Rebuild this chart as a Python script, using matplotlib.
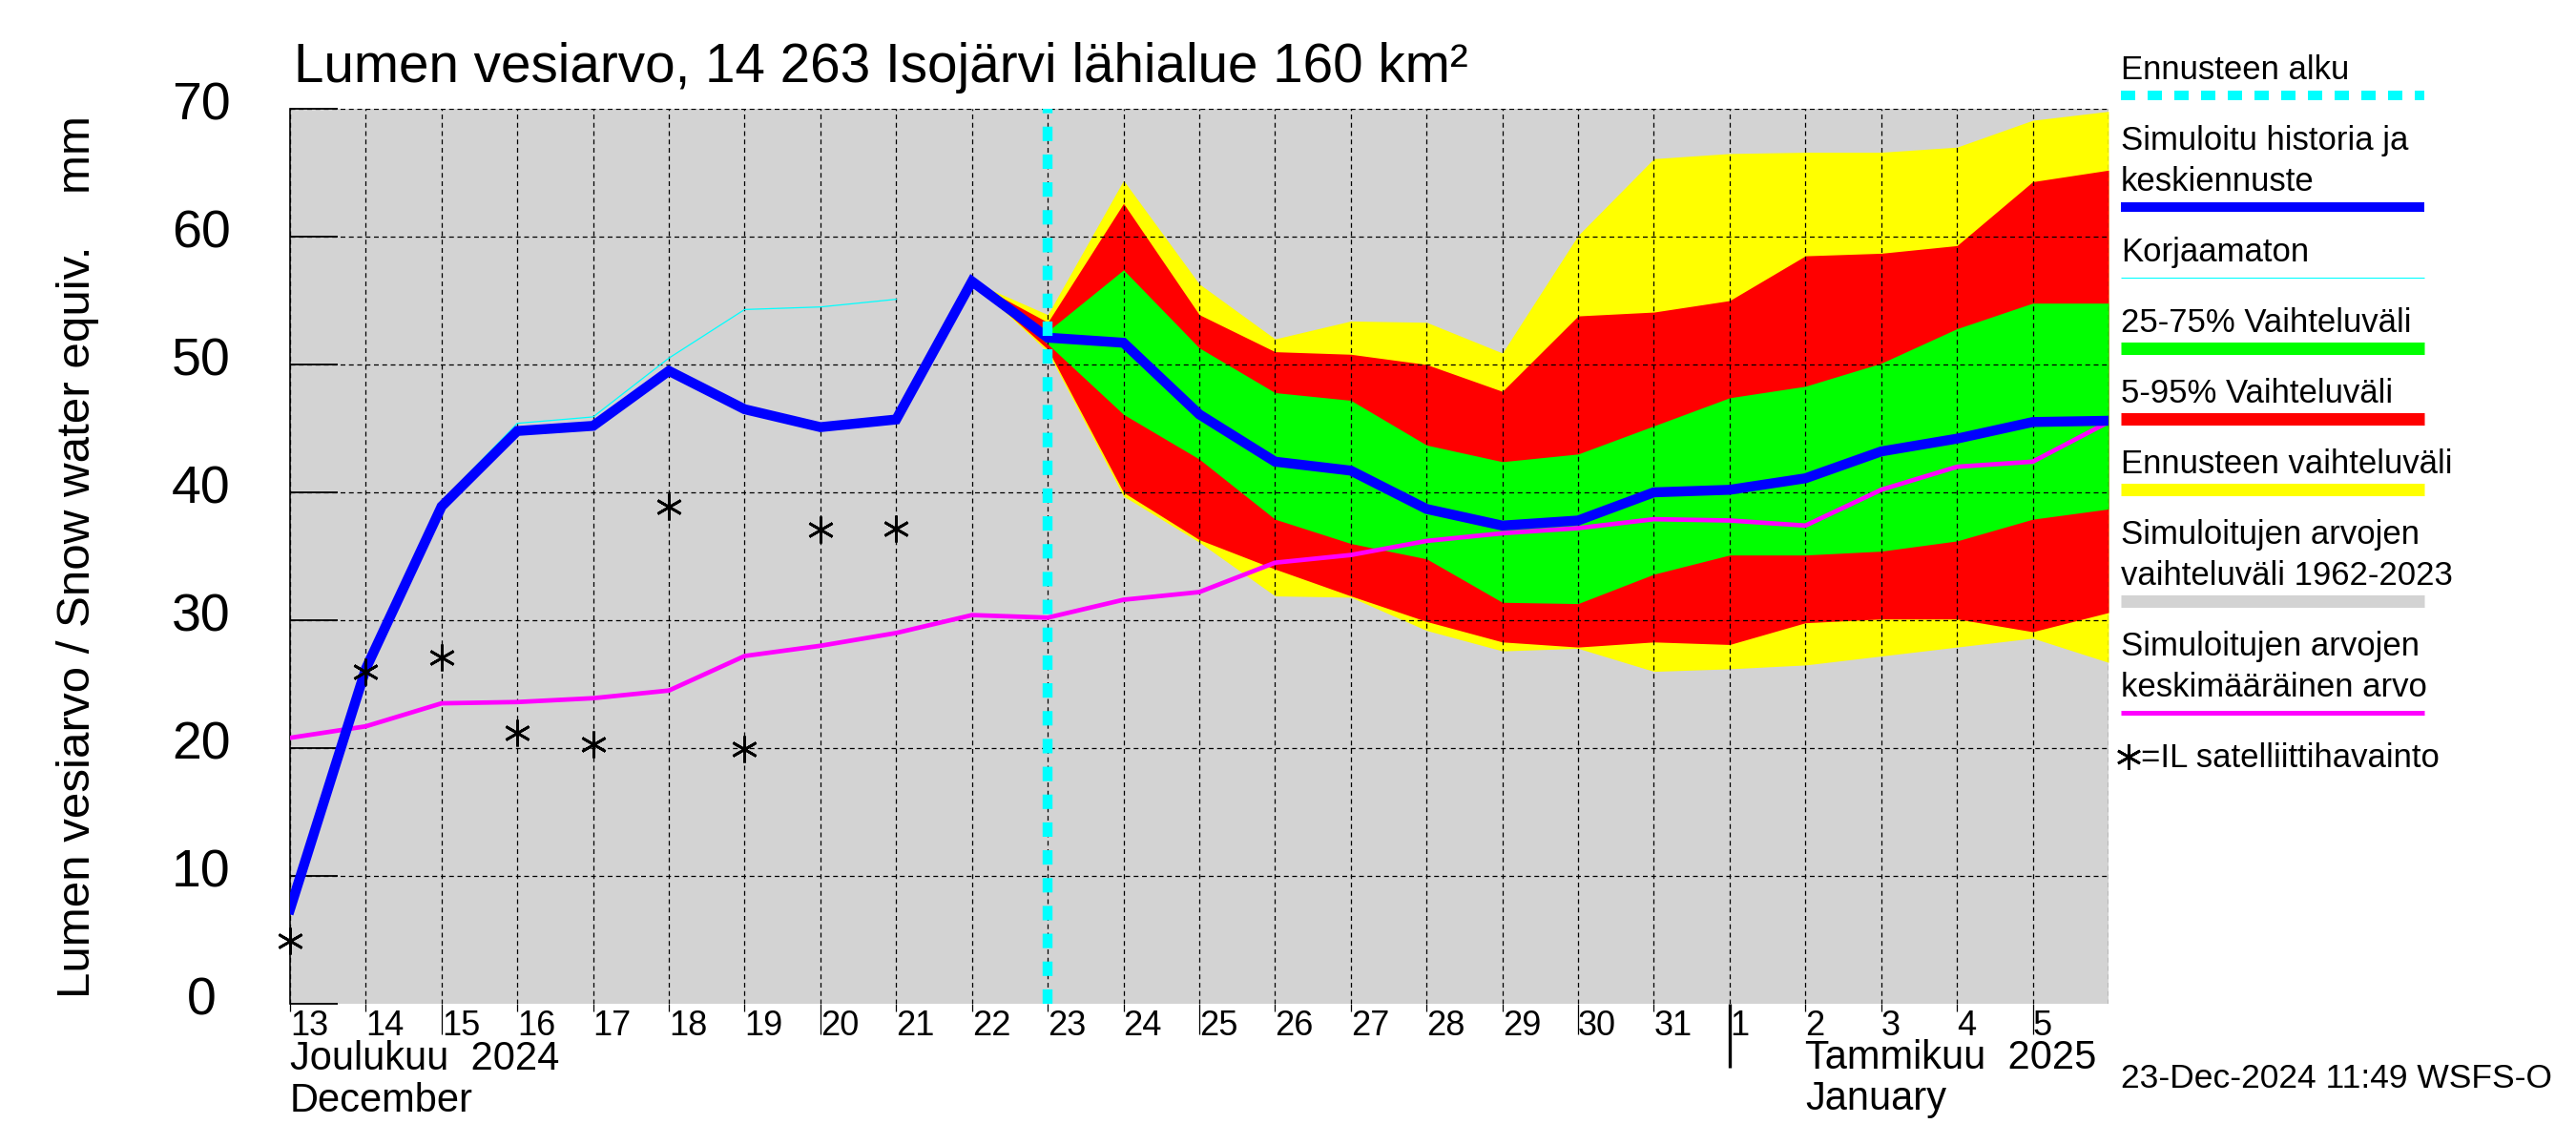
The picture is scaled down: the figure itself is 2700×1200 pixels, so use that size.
import numpy as np
import pandas as pd
import matplotlib
matplotlib.use("Agg")
import matplotlib.pyplot as plt
from matplotlib.lines import Line2D
from matplotlib.transforms import blended_transform_factory, ScaledTranslation

plt.rcParams["font.family"] = ["Liberation Sans", "DejaVu Sans"]

# ---------------------------------------------------------------------------
# Data
# ---------------------------------------------------------------------------

# x axis: 13 Dec 2024 .. 6 Jan 2025
days = pd.date_range("2024-12-13", "2025-01-06", freq="D")
forecast_start = pd.Timestamp("2024-12-23")

# simulated history and mean forecast, mm
sim_mean = [7.4, 26.2, 38.9, 44.8, 45.2, 49.5, 46.5, 45.1, 45.7, 56.5,
            52.1, 51.7, 46.1, 42.4, 41.7, 38.7, 37.4, 37.8, 40.0, 40.2,
            41.1, 43.2, 44.2, 45.5, 45.6]

# uncorrected simulation (13 Dec .. 21 Dec)
uncorr_days = days[:9]
uncorr = [7.5, 26.5, 39.3, 45.4, 45.9, 50.5, 54.3, 54.5, 55.1]

# mean of simulated values 1962-2023
hist_mean = [20.8, 21.7, 23.5, 23.6, 23.9, 24.5, 27.2, 28.0, 29.0, 30.4,
             30.2, 31.6, 32.2, 34.5, 35.1, 36.2, 36.8, 37.2, 37.9, 37.8,
             37.4, 40.2, 42.0, 42.4, 45.5]

# IL satellite observations
obs_days = days[:9]
obs = [4.9, 26.0, 27.1, 21.2, 20.3, 38.9, 19.9, 37.1, 37.2]

# forecast ranges (22 Dec .. 6 Jan)
fc_days = days[9:]
fc_max = [56.5, 53.9, 64.4, 56.3, 52.0, 53.4, 53.3, 50.9, 60.1, 66.1,
          66.5, 66.6, 66.6, 67.0, 69.1, 69.8]
fc_p95 = [56.5, 53.3, 62.6, 53.9, 51.0, 50.8, 50.0, 47.9, 53.8, 54.1,
          55.0, 58.5, 58.7, 59.3, 64.3, 65.2]
fc_p75 = [56.5, 52.6, 57.4, 51.3, 47.8, 47.2, 43.7, 42.4, 43.0, 45.2,
          47.4, 48.3, 50.1, 52.8, 54.8, 54.8]
fc_p25 = [56.5, 51.6, 46.1, 42.6, 37.9, 36.0, 34.8, 31.4, 31.3, 33.6,
          35.1, 35.1, 35.4, 36.2, 37.9, 38.7]
fc_p05 = [56.5, 51.2, 40.0, 36.3, 34.0, 31.9, 29.9, 28.3, 27.9, 28.3,
          28.1, 29.8, 30.1, 30.1, 29.1, 30.6]
fc_min = [56.5, 51.0, 39.7, 36.1, 31.9, 31.8, 29.2, 27.6, 27.8, 26.0,
          26.2, 26.5, 27.2, 27.9, 28.6, 26.7]

y_ticks = [0, 10, 20, 30, 40, 50, 60, 70]

# ---------------------------------------------------------------------------
# Figure
# ---------------------------------------------------------------------------

W, H = 2700, 1200
fig = plt.figure(figsize=(27, 12), dpi=100)
fig.patch.set_facecolor("white")


def fx(px):
    return px / W


def fy(px):
    return 1 - px / H


ax = fig.add_axes([fx(304), fy(1052), fx(2210) - fx(304), fy(114) - fy(1052)])
ax.set_facecolor("#d3d3d3")

ax.fill_between(fc_days, fc_min, fc_max, color="#ffff00", linewidth=0, zorder=1)
ax.fill_between(fc_days, fc_p05, fc_p95, color="#ff0000", linewidth=0, zorder=1.1)
ax.fill_between(fc_days, fc_p25, fc_p75, color="#00ff00", linewidth=0, zorder=1.2)

ax.plot(uncorr_days, uncorr, color="#00ffff", linewidth=0.9, zorder=3)
ax.plot(days, hist_mean, color="#ff00ff", linewidth=3.4, zorder=3.2)
ax.plot(days, sim_mean, color="#0000ff", linewidth=7.5, zorder=3.4,
        solid_joinstyle="miter")
ax.plot(obs_days, obs, linestyle="none", marker=(6, 2, 0), markersize=20,
        markeredgewidth=2.0, color="black", zorder=3.6, clip_on=False)
ax.axvline(forecast_start, color="#00ffff", linewidth=7.5,
           linestyle=(0, (1.45, 1.35)), zorder=3.8)

ax.set_xlim(days[0], days[-1])
ax.set_ylim(0, 70)

# grid
ax.set_axisbelow(False)
ax.grid(True, color="black", linestyle=(0, (4, 3)), linewidth=0.9)
for spine in ["top", "right", "bottom"]:
    ax.spines[spine].set_visible(False)
ax.spines["left"].set_linewidth(1.2)

# y axis: labels centred in the left margin
ax.set_yticks(y_ticks)
ax.yaxis.get_gridlines()[0].set_visible(False)
ax.tick_params(axis="y", direction="in", length=36, width=1.3,
               labelsize=40, pad=67)
for lab in ax.get_yticklabels():
    lab.set_ha("center")
    lab.set_transform(lab.get_transform()
                      + ScaledTranslation(0, 6 / 72, fig.dpi_scale_trans))

# x axis: day numbers, ticks drawn below the axis
ax.set_xticks(days)
ax.set_xticklabels([str(d.day) for d in days[:-1]] + [""], ha="left")
ax.tick_params(axis="x", length=0, labelsize=26, pad=4)

btrans = blended_transform_factory(ax.transData, ax.transAxes)
for d in days[:-1]:
    if d.day == 1:
        ln, lw = 0.071, 2.4
    elif d.day % 5 == 0:
        ln, lw = 0.034, 0.9
    else:
        ln, lw = 0.008, 0.9
    ax.plot([d, d], [0, -ln], transform=btrans, color="black",
            linewidth=lw, clip_on=False, solid_capstyle="butt")

ax.text(days[0], -0.0736, "Joulukuu  2024", transform=btrans,
        fontsize=30, va="baseline", ha="left")
ax.text(days[0], -0.1205, "December", transform=btrans,
        fontsize=30, va="baseline", ha="left")
ax.text(pd.Timestamp("2025-01-02"), -0.0725, "Tammikuu  2025", transform=btrans,
        fontsize=30, va="baseline", ha="left")
ax.text(pd.Timestamp("2025-01-02"), -0.1185, "January", transform=btrans,
        fontsize=30, va="baseline", ha="left")

# titles
fig.text(fx(308), fy(86), "Lumen vesiarvo, 14 263 Isojärvi lähialue 160 km²",
         fontsize=40.8, va="baseline", ha="left")
fig.text(fx(82), (fy(114) + fy(1052)) / 2,
         "Lumen vesiarvo / Snow water equiv.    mm",
         fontsize=35.5, rotation=90, va="center", ha="center")
fig.text(fx(2223), fy(1140), "23-Dec-2024 11:49 WSFS-O",
         fontsize=25.5, va="baseline", ha="left")

# legend, drawn at figure level
legend_items = [
    (["Ennusteen alku"], "#00ffff", 7.2, (0, (1.5, 1.3))),
    (["Simuloitu historia ja", "keskiennuste"], "#0000ff", 7.2, "-"),
    (["Korjaamaton"], "#00ffff", 0.8, "-"),
    (["25-75% Vaihteluväli"], "#00ff00", 9.4, "-"),
    (["5-95% Vaihteluväli"], "#ff0000", 9.4, "-"),
    (["Ennusteen vaihteluväli"], "#ffff00", 9.4, "-"),
    (["Simuloitujen arvojen", "vaihteluväli 1962-2023"], "#d3d3d3", 9.4, "-"),
    (["Simuloitujen arvojen", "keskimääräinen arvo"], "#ff00ff", 3.6, "-"),
]

x0, x1 = 2223, 2541
y = 83
for lines, color, lw, ls in legend_items:
    for i, txt in enumerate(lines):
        if i > 0:
            y += 43
        fig.text(fx(x0), fy(y), txt, fontsize=25, va="baseline", ha="left")
    fig.add_artist(Line2D([fx(x0), fx(x1)], [fy(y + 17), fy(y + 17)],
                          color=color, linewidth=lw, linestyle=ls,
                          solid_capstyle="butt", dash_capstyle="butt"))
    y += 74

fig.add_artist(Line2D([fx(2231)], [fy(y - 11)], marker=(6, 2, 0), markersize=19,
                      markeredgewidth=2.0, color="black", linestyle="none"))
fig.text(fx(2244), fy(y), "=IL satelliittihavainto", fontsize=25,
         va="baseline", ha="left")

fig.savefig("out.png", dpi=100, facecolor="white")
